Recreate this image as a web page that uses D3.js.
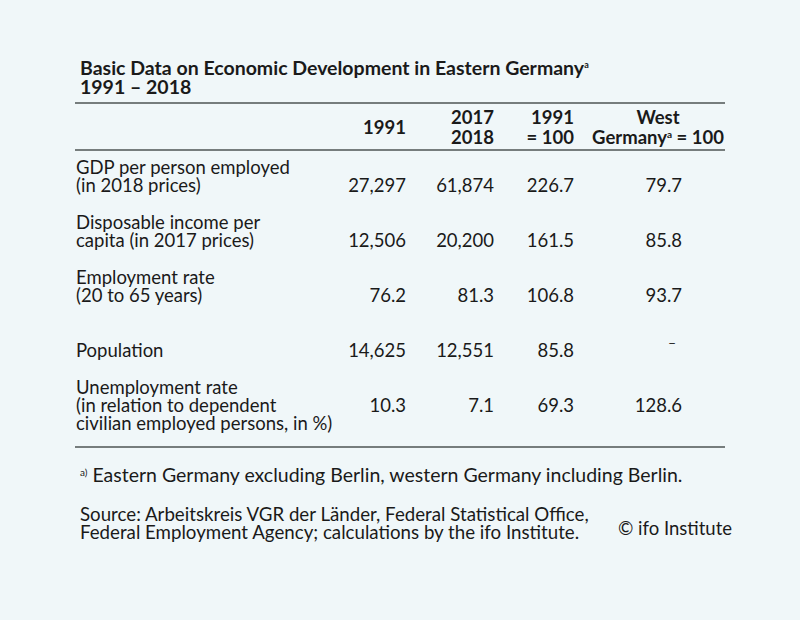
<!DOCTYPE html>
<html><head><meta charset="utf-8">
<script src="https://cdn.jsdelivr.net/npm/d3@7"></script>
<style>
html,body{margin:0;padding:0;background:#f0f7f9;}
svg{display:block;}
text{font-family:Lato,"Noto Sans",sans-serif;fill:#1a1a1a;}
</style></head><body>
<svg id="c" width="800" height="620"></svg>
<script>
const titleLines = ["Basic Data on Economic Development in Eastern Germany", "1991 – 2018"];
const columns = ["c1991", "c2018", "i1991", "iWest"];
const headerLines = [["1991"], ["2017", "2018"], ["1991", "= 100"], ["West", "Germany|a| = 100"]];
const rowLabels = [
  ["GDP per person employed", "(in 2018 prices)"],
  ["Disposable income per", "capita (in 2017 prices)"],
  ["Employment rate", "(20 to 65 years)"],
  ["Population"],
  ["Unemployment rate", "(in relation to dependent", "civilian employed persons, in %)"]
];
const val1991 = [27297, 12506, 76.2, 14625, 10.3];
const val2018 = [61874, 20200, 81.3, 12551, 7.1];
const idx1991 = [226.7, 161.5, 106.8, 85.8, 69.3];
const idxWest = [79.7, 85.8, 93.7, null, 128.6];
const rowIsInt = [true, true, false, true, false];
const footnote = "Eastern Germany excluding Berlin, western Germany including Berlin.";
const sourceLines = ["Source: Arbeitskreis VGR der Länder, Federal Statistical Office,", "Federal Employment Agency; calculations by the ifo Institute."];
const copyright = "© ifo Institute";

const svg = d3.select("#c");
const fs = 18.5, lh = 18;
const left = 76, right = 724;

// title
const t = svg.append("g").attr("font-weight", "bold").attr("font-size", 19.5);
t.append("text").attr("x", 80).attr("y", 75).text(titleLines[0])
  .append("tspan").attr("font-size", 9).attr("dy", -7).text("a");
t.append("text").attr("x", 80).attr("y", 94).text(titleLines[1]);

// rules
const rules = [103, 150, 447];
svg.selectAll("line.rule").data(rules).join("line")
  .attr("x1", left - 1).attr("x2", right + 1).attr("y1", d => d).attr("y2", d => d)
  .attr("stroke", "#767d7d").attr("stroke-width", 2);

// columns
const x = d3.scaleOrdinal().domain(columns).range([406, 494, 574, 682]);
const rowIdx = d3.range(rowLabels.length);
const y = d3.scalePoint().domain(rowIdx).range([192, 412]);

// header
const hx = {c1991: 406, c2018: 494, i1991: 574, iWest: 724};
const hg = svg.append("g").attr("font-weight", "bold").attr("font-size", fs);
columns.forEach((c, ci) => {
  const lines = headerLines[ci];
  lines.forEach((ln, li) => {
    const by = lines.length === 1 ? 134 : 124 + li * 20;
    const isWestTop = c === "iWest" && li === 0;
    const tx = hg.append("text")
      .attr("x", isWestTop ? 658 : hx[c])
      .attr("y", by)
      .attr("text-anchor", isWestTop ? "middle" : "end");
    const parts = ln.split("|");
    parts.forEach((p, pi) => {
      if (pi % 2 === 1) {
        tx.append("tspan").attr("font-size", 10).attr("dy", -6).text(p);
      } else if (pi > 0) {
        tx.append("tspan").attr("dy", 6).text(p);
      } else {
        tx.append("tspan").text(p);
      }
    });
  });
});

// row labels
const rg = svg.append("g").attr("font-size", fs);
rowLabels.forEach((lines, ri) => {
  lines.forEach((ln, li) => {
    const off = (li - (lines.length > 1 ? 1 : 0)) * lh;
    rg.append("text").attr("x", left).attr("y", y(ri) + off).text(ln);
  });
});

// values
const fmtInt = d3.format(",");
const fmtDec = d3.format(".1f");
const series = {c1991: val1991, c2018: val2018, i1991: idx1991, iWest: idxWest};
columns.forEach(c => {
  rg.selectAll(null).data(series[c]).join("text")
    .attr("x", d => d === null ? x(c) - 6 : x(c))
    .attr("y", (d, i) => d === null ? y(i) - 9 : y(i))
    .attr("text-anchor", "end")
    .attr("font-size", (d) => d === null ? 14 : fs)
    .text((d, i) => d === null ? "–" : (c.startsWith("c") && rowIsInt[i] ? fmtInt(d) : fmtDec(d)));
});

// footnote
const fn = svg.append("text").attr("x", 80).attr("y", 482).attr("font-size", 19.5);
fn.append("tspan").attr("font-size", 10).attr("dy", -6).text("a)");
fn.append("tspan").attr("dy", 6).text(" " + footnote);

sourceLines.forEach((s, i) => {
  svg.append("text").attr("x", 80).attr("y", 521 + i * 18).attr("font-size", 18.7).text(s);
});
svg.append("text").attr("x", 732).attr("y", 535).attr("text-anchor", "end").attr("font-size", fs).text(copyright);
</script>
</body></html>
